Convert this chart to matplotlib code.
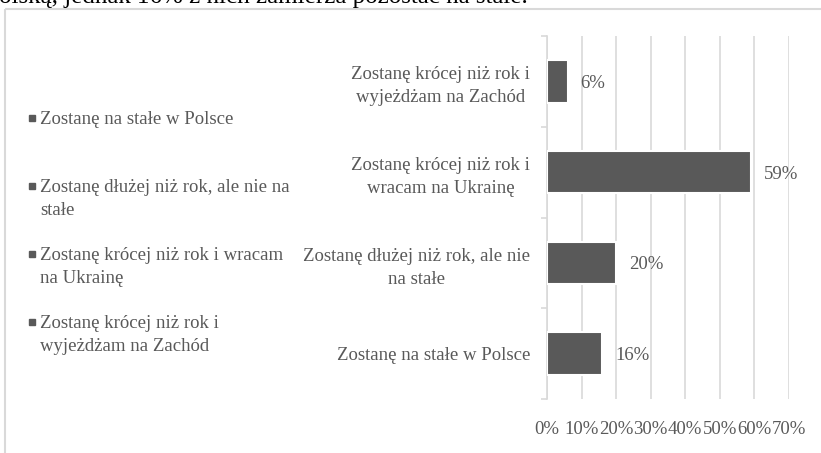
import matplotlib.pyplot as plt
from matplotlib.patches import Rectangle
from matplotlib.ticker import FixedLocator, PercentFormatter

# data (bottom -> top, same order as legend)
categories = ['Zostanę na stałe w Polsce',
              'Zostanę dłużej niż rok, ale nie\nna stałe',
              'Zostanę krócej niż rok i\nwracam na Ukrainę',
              'Zostanę krócej niż rok i\nwyjeżdżam na Zachód']
legend_labels = ['Zostanę na stałe w Polsce',
                 'Zostanę dłużej niż rok, ale nie na\nstałe',
                 'Zostanę krócej niż rok i wracam\nna Ukrainę',
                 'Zostanę krócej niż rok i\nwyjeżdżam na Zachód']
values = [0.16, 0.20, 0.59, 0.06]
x_ticks = [0, 0.1, 0.2, 0.3, 0.4, 0.5, 0.6, 0.7]
caption = 'olską, jednak 16% z nich zamierza pozostać na stałe.'

plt.rcParams['font.family'] = ['Liberation Serif', 'DejaVu Serif']
grey = '#595959'
light = '#d9d9d9'
fs = 13.5

W, H = 821, 453
fig = plt.figure(figsize=(W / 100, H / 100), dpi=100)

# overlay in pixel coords for frame, caption, legend
lay = fig.add_axes([0, 0, 1, 1], zorder=0)
lay.set_xlim(0, W)
lay.set_ylim(H, 0)
lay.axis('off')
lay.add_patch(Rectangle((5, 9), W, H, fill=False, ec=light, lw=1.5))
lay.text(-1, 3, caption, fontsize=18, color='black', va='baseline', ha='left')

for i, lab in enumerate(legend_labels):
    y = 118 + i * 68
    lay.plot(32, y, marker='s', ms=4.5, color=grey, ls='none')
    lay.text(40, y - 7, lab, fontsize=fs, color=grey, va='top', ha='left',
             linespacing=1.45)

ax = fig.add_axes([547 / W, 1 - 399 / H, (789 - 547) / W, (399 - 36) / H], zorder=1)
ax.patch.set_alpha(0)
pos = list(range(len(categories)))
bars = ax.barh(pos, values, height=0.47, color=grey, edgecolor='white', linewidth=1.5, zorder=3)
for b, v in zip(bars, values):
    ax.annotate(f'{v * 100:.0f}%', (b.get_width(), b.get_y() + b.get_height() / 2),
                xytext=(13, -2), textcoords='offset pixels', va='center', ha='left',
                fontsize=fs, color=grey)

ax.set_xlim(0, 0.7)
ax.set_ylim(-0.5, 3.5)
ax.set_xticks(x_ticks)
ax.xaxis.set_major_formatter(PercentFormatter(1.0, decimals=0))
ax.grid(axis='x', color=light, lw=1.2, zorder=0)
ax.set_yticks(pos)
ax.set_yticklabels(categories, multialignment='center', linespacing=1.45)
ax.yaxis.set_minor_locator(FixedLocator([-0.5, 0.5, 1.5, 2.5, 3.5]))
ax.tick_params(axis='y', which='major', length=0, pad=12, labelsize=fs, labelcolor=grey)
ax.tick_params(axis='y', which='minor', length=4, color=light, width=1.2)
ax.tick_params(axis='x', length=0, pad=16, labelsize=fs, labelcolor=grey)
for s in ['top', 'right', 'bottom']:
    ax.spines[s].set_visible(False)
ax.spines['left'].set_color(light)
ax.spines['left'].set_linewidth(1.2)

fig.savefig('out.png', dpi=100)
